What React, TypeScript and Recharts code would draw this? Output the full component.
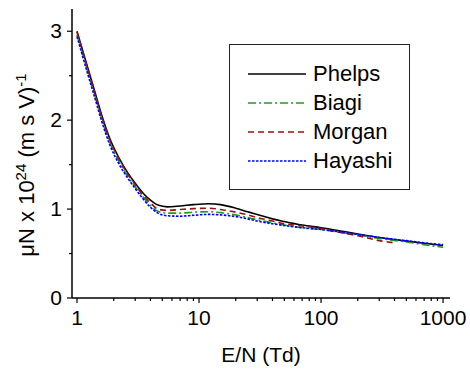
import React from 'react'
import { LineChart, Line, XAxis, YAxis } from 'recharts'

const FONT = '"Liberation Sans", Arial, sans-serif'

const SERIES_NAMES = ['Phelps', 'Biagi', 'Morgan', 'Hayashi']

const FULL_X = [1, 1.2, 1.4, 1.6, 1.86, 2.2, 2.6, 3, 3.5, 4, 4.6, 5.5, 7, 9, 12, 15, 20, 25, 30, 40, 50, 70, 100, 150, 200, 300, 500, 700, 1000]

const PHELPS_Y = [3.0, 2.63, 2.32, 2.05, 1.79, 1.58, 1.41, 1.29, 1.175, 1.1, 1.045, 1.025, 1.035, 1.05, 1.06, 1.05, 1.01, 0.97, 0.94, 0.89, 0.86, 0.82, 0.79, 0.75, 0.72, 0.68, 0.64, 0.615, 0.59]
const BIAGI_Y = [2.96, 2.59, 2.28, 2.01, 1.75, 1.54, 1.37, 1.25, 1.13, 1.04, 0.975, 0.955, 0.955, 0.965, 0.97, 0.96, 0.935, 0.905, 0.88, 0.845, 0.82, 0.79, 0.77, 0.735, 0.71, 0.67, 0.63, 0.6, 0.57]
const HAYASHI_Y = [2.94, 2.56, 2.25, 1.98, 1.72, 1.51, 1.35, 1.23, 1.11, 1.02, 0.955, 0.925, 0.92, 0.93, 0.94, 0.935, 0.915, 0.89, 0.865, 0.835, 0.815, 0.79, 0.77, 0.74, 0.715, 0.68, 0.645, 0.62, 0.6]

const MORGAN_X = [1, 1.2, 1.4, 1.6, 1.86, 2.2, 2.6, 3, 3.5, 4, 4.6, 5.5, 7, 9, 12, 15, 20, 25, 30, 40, 50, 70, 100, 150, 200, 300, 400]
const MORGAN_Y = [2.99, 2.62, 2.3, 2.035, 1.775, 1.565, 1.395, 1.275, 1.15, 1.07, 1.0, 0.985, 0.995, 1.005, 1.01, 0.995, 0.965, 0.935, 0.905, 0.865, 0.835, 0.81, 0.78, 0.73, 0.7, 0.645, 0.62]

const X_MAJOR = [1, 10, 100, 1000]
const X_MINOR = [2, 3, 4, 5, 6, 7, 8, 9, 20, 30, 40, 50, 60, 70, 80, 90, 200, 300, 400, 500, 600, 700, 800, 900]
const Y_MAJOR = [0, 1, 2, 3]
const Y_MINOR = [0.5, 1.5, 2.5]

const toPoints = (xs: number[], ys: number[]) => xs.map((x, i) => ({ x, y: ys[i] }))

const series = [
  { name: SERIES_NAMES[0], data: toPoints(FULL_X, PHELPS_Y), color: '#000000', dash: undefined },
  { name: SERIES_NAMES[1], data: toPoints(FULL_X, BIAGI_Y), color: '#1f9a1f', dash: '8 3 2 3' },
  { name: SERIES_NAMES[2], data: toPoints(MORGAN_X, MORGAN_Y), color: '#9a1010', dash: '6 4' },
  { name: SERIES_NAMES[3], data: toPoints(FULL_X, HAYASHI_Y), color: '#0000ff', dash: '2.5 1.5' },
]

const XTick = (props: any) => {
  const { x, y, payload } = props
  const major = X_MAJOR.includes(payload.value)
  return (
    <g>
      <line x1={x} x2={x} y1={y} y2={y + (major ? 5 : 3)} stroke="#000" strokeWidth={1.2} />
      {major && (
        <text x={x} y={y + 27} textAnchor="middle" fontSize={21} fontFamily={FONT} fill="#000">
          {payload.value}
        </text>
      )}
    </g>
  )
}

const YTick = (props: any) => {
  const { x, y, payload } = props
  const major = Y_MAJOR.includes(payload.value)
  return (
    <g>
      <line x1={x - (major ? 5 : 3)} x2={x} y1={y} y2={y} stroke="#000" strokeWidth={1.2} />
      {major && (
        <text x={x - 10} y={y + 7} textAnchor="end" fontSize={21} fontFamily={FONT} fill="#000">
          {payload.value}
        </text>
      )}
    </g>
  )
}

const YTitle = () => (
  <text transform="rotate(-90)" x={-165} y={34} textAnchor="middle" fontSize={22} fontFamily={FONT} fill="#000">
    μN x 10<tspan dy={-8} fontSize={15}>24</tspan>
    <tspan dy={8}> (m s V)</tspan>
    <tspan dy={-8} fontSize={15}>-1</tspan>
  </text>
)

const XTitle = () => (
  <text x={261} y={362} textAnchor="middle" fontSize={21} fontFamily={FONT} fill="#000">
    E/N (Td)
  </text>
)

const LegendBox = () => (
  <div
    style={{
      position: 'absolute',
      left: 229,
      top: 44,
      width: 181,
      height: 146,
      boxSizing: 'border-box',
      border: '1px solid #222',
      background: '#fff',
      fontFamily: FONT,
      fontSize: 22,
    }}
  >
    {series.map((s, i) => (
      <div key={s.name} style={{ position: 'absolute', left: 17, top: 14 + i * 29, height: 29, display: 'flex', alignItems: 'center' }}>
        <svg width={60} height={6}>
          <line x1={1} x2={59} y1={3} y2={3} stroke={s.color} strokeWidth={1.5} strokeDasharray={s.dash} />
        </svg>
        <span style={{ marginLeft: 6, lineHeight: '29px' }}>{s.name}</span>
      </div>
    ))}
  </div>
)

export default function App() {
  return (
    <div style={{ position: 'absolute', left: 0, top: 0, width: 470, height: 369, background: '#fff' }}>
      <LineChart width={470} height={369} margin={{ top: 9, right: 20, bottom: 0, left: 0 }}>
        <XAxis
          type="number"
          dataKey="x"
          scale="log"
          domain={[0.91, 1140]}
          allowDataOverflow
          ticks={[...X_MAJOR, ...X_MINOR]}
          interval={0}
          tickLine={false}
          tickSize={0}
          tickMargin={0}
          tick={<XTick />}
          height={71}
          axisLine={{ stroke: '#000', strokeWidth: 1.5 }}
          label={<XTitle />}
        />
        <YAxis
          type="number"
          domain={[0, 3.25]}
          allowDataOverflow
          ticks={[...Y_MAJOR, ...Y_MINOR]}
          interval={0}
          tickLine={false}
          tickSize={0}
          tickMargin={0}
          tick={<YTick />}
          width={72}
          axisLine={{ stroke: '#000', strokeWidth: 1.5 }}
          label={<YTitle />}
        />
        {series.map((s) => (
          <Line
            key={s.name}
            data={s.data}
            dataKey="y"
            name={s.name}
            type="monotone"
            stroke={s.color}
            strokeWidth={1.6}
            strokeDasharray={s.dash}
            dot={false}
            isAnimationActive={false}
          />
        ))}
      </LineChart>
      <LegendBox />
    </div>
  )
}
